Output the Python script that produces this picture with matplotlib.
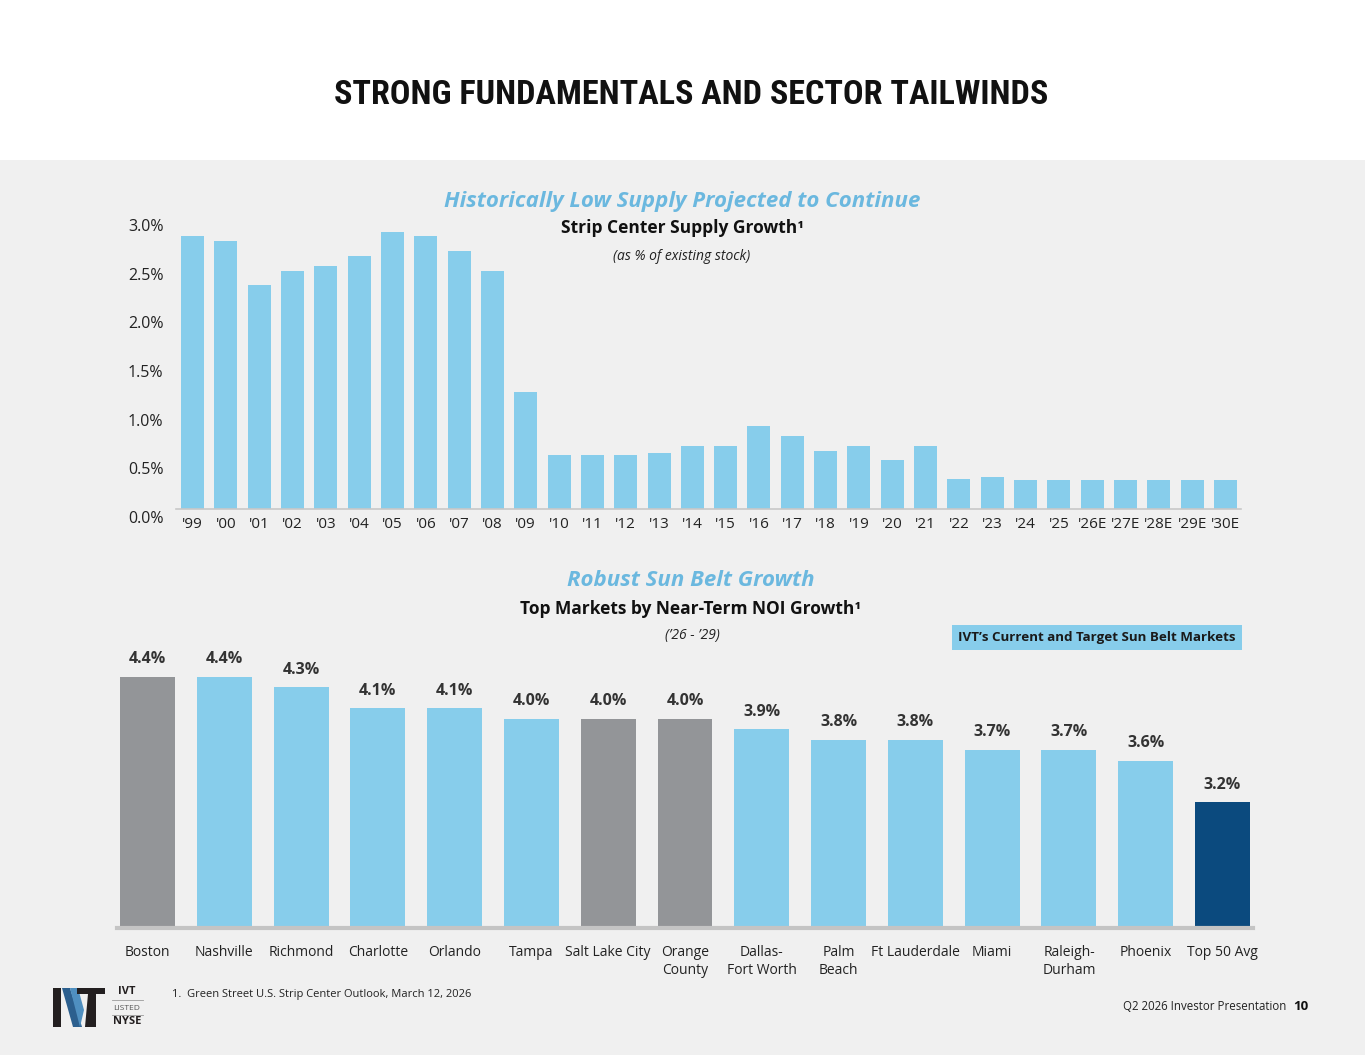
import matplotlib.pyplot as plt
import matplotlib.transforms as mtransforms
from matplotlib import font_manager as fm
from matplotlib.patches import Rectangle, Polygon

# top chart: strip center supply growth (% of existing stock)
years = ["'99", "'00", "'01", "'02", "'03", "'04", "'05", "'06", "'07", "'08",
         "'09", "'10", "'11", "'12", "'13", "'14", "'15", "'16", "'17", "'18",
         "'19", "'20", "'21", "'22", "'23", "'24", "'25",
         "'26E", "'27E", "'28E", "'29E", "'30E"]
supply = [2.80, 2.75, 2.30, 2.45, 2.50, 2.60, 2.85, 2.80, 2.65, 2.45,
          1.20, 0.55, 0.55, 0.55, 0.58, 0.65, 0.65, 0.85, 0.75, 0.60,
          0.65, 0.50, 0.65, 0.31, 0.33, 0.30, 0.30,
          0.30, 0.30, 0.30, 0.30, 0.30]
supply_ticks = [0.0, 0.5, 1.0, 1.5, 2.0, 2.5, 3.0]

# bottom chart: near-term NOI growth by market
markets = ["Boston", "Nashville", "Richmond", "Charlotte", "Orlando", "Tampa",
           "Salt Lake City", "Orange\nCounty", "Dallas-\nFort Worth",
           "Palm\nBeach", "Ft Lauderdale", "Miami", "Raleigh-\nDurham",
           "Phoenix", "Top 50 Avg"]
noi_growth = [4.4, 4.4, 4.3, 4.1, 4.1, 4.0, 4.0, 4.0, 3.9, 3.8, 3.8, 3.7, 3.7,
              3.6, 3.2]
market_group = ["other", "ivt", "ivt", "ivt", "ivt", "ivt", "other", "other",
                "ivt", "ivt", "ivt", "ivt", "ivt", "ivt", "avg"]

SKY = "#87CDEB"
GREY = "#939598"
NAVY = "#0B4A7E"
HEAD_BLUE = "#6BB8DF"
BG = "#F0F0F0"
group_colors = {"ivt": SKY, "other": GREY, "avg": NAVY}

W, H = 1365, 1055
plt.rcParams['font.family'] = ['Open Sans', 'DejaVu Sans']


def fx(x):
    return x / W


def fy(y):
    return 1 - y / H


names = {f.name for f in fm.fontManager.ttflist}
title_font = dict(family='Roboto', weight='bold', size=22.5)
for cand in ['Liberation Sans Narrow', 'DejaVu Sans Condensed', 'Roboto Condensed']:
    if cand in names:
        title_font = dict(family=cand, weight='bold', size=24.6)
        break

fig = plt.figure(figsize=(W / 100, H / 100), dpi=100)
fig.patch.set_facecolor(BG)
fig.patches.append(Rectangle((0, fy(160)), 1, 160 / H, transform=fig.transFigure,
                             facecolor='white', edgecolor='none', zorder=0))

fig.text(fx(691), fy(95), "STRONG FUNDAMENTALS AND SECTOR TAILWINDS",
         ha='center', va='center', color='#111111', **title_font)

# ---- top chart ----
ax1 = fig.add_axes([fx(176), fy(509), fx(1241) - fx(176), (509 - 217) / H])
ax1.set_facecolor('none')
ax1.bar(range(len(supply)), supply, width=0.69, color=SKY, zorder=2)
ax1.set_xlim(-0.495, len(supply) - 1 + 0.465)
ax1.set_ylim(0, 3.0)
ax1.set_yticks(supply_ticks)
ax1.set_yticklabels([f"{t:.1f}%" for t in supply_ticks])
ax1.set_xticks(range(len(years)))
ax1.set_xticklabels(years)
ax1.tick_params(axis='both', length=0, labelsize=11.5, colors='#222222')
ax1.tick_params(axis='x', labelsize=11)
ax1.tick_params(axis='y', pad=9)
ax1.tick_params(axis='x', pad=6)
for s in ['top', 'right', 'left']:
    ax1.spines[s].set_visible(False)
ax1.spines['bottom'].set_color('#C8C8C8')
ax1.spines['bottom'].set_linewidth(1.2)
offset = mtransforms.ScaledTranslation(0, -8 / 100, fig.dpi_scale_trans)
for lab in ax1.get_yticklabels():
    lab.set_transform(lab.get_transform() + offset)

fig.text(fx(682), fy(201), "Historically Low Supply Projected to Continue",
         ha='center', va='center', color=HEAD_BLUE, fontsize=16,
         fontweight='bold', style='italic')
fig.text(fx(682), fy(228), "Strip Center Supply Growth\u00b9", ha='center',
         va='center', color='#111111', fontsize=12.5, fontweight='bold')
fig.text(fx(682), fy(256), "(as % of existing stock)", ha='center', va='center',
         color='#222222', fontsize=10, style='italic')

# ---- bottom chart ----
ax2 = fig.add_axes([fx(117), fy(928), fx(1253) - fx(117), (928 - 656) / H])
ax2.set_facecolor('none')
ax2.bar(range(len(noi_growth)), noi_growth, width=0.716, bottom=0,
        color=[group_colors[g] for g in market_group], zorder=2)
ax2.set_xlim(-0.397, len(noi_growth) - 1 + 0.397)
ax2.set_ylim(2.0, 4.6)
ax2.set_yticks([])
ax2.set_xticks(range(len(markets)))
ax2.set_xticklabels(markets, linespacing=1.3)
ax2.tick_params(axis='x', length=0, labelsize=10, colors='#222222', pad=12)
for s in ['top', 'right', 'left']:
    ax2.spines[s].set_visible(False)
ax2.spines['bottom'].set_color('#C4C4C4')
ax2.spines['bottom'].set_linewidth(3)
ax2.spines['bottom'].set_zorder(3)
for i, v in enumerate(noi_growth):
    ax2.annotate(f"{v:.1f}%", (i, v), xytext=(0, 7), textcoords='offset points',
                 ha='center', va='bottom', fontsize=11.5, fontweight='bold',
                 color='#333333')

fig.text(fx(691), fy(581), "Robust Sun Belt Growth", ha='center', va='center',
         color=HEAD_BLUE, fontsize=16, fontweight='bold', style='italic')
fig.text(fx(691), fy(609), "Top Markets by Near-Term NOI Growth\u00b9",
         ha='center', va='center', color='#111111', fontsize=12.5,
         fontweight='bold')
fig.text(fx(692), fy(636), "(\u201926 - \u201929)", ha='center', va='center',
         color='#222222', fontsize=10, style='italic')

fig.text(fx(1097), fy(637), "IVT\u2019s Current and Target Sun Belt Markets",
         ha='center', va='center', color='#1a1a1a', fontsize=9.6,
         fontweight='bold',
         bbox=dict(boxstyle='square,pad=0.45', facecolor=SKY, edgecolor='none'))

# ---- footer ----
fig.text(fx(172), fy(994), "1.  Green Street U.S. Strip Center Outlook, March 12, 2026",
         ha='left', va='center', color='#222222', fontsize=8)
fig.text(fx(1286), fy(1007), "Q2 2026 Investor Presentation", ha='right',
         va='center', color='#222222', fontsize=8.3)
fig.text(fx(1293), fy(1007), "10", ha='left', va='center', color='#111111',
         fontsize=9.5, fontweight='bold')

# logo mark
logo = [
    ([(53, 988), (61, 988), (61, 1027), (53, 1027)], '#231F20'),
    ([(62, 988), (70, 988), (82, 1027), (73, 1027)], '#2C5F8E'),
    ([(70, 988), (78, 988), (84, 1010), (80, 1027)], '#4F8FC0'),
    ([(77, 988), (105, 988), (105, 994), (77, 994)], '#231F20'),
    ([(88, 994), (96, 994), (96, 1027), (85, 1027)], '#231F20'),
]
for pts, col in logo:
    fig.patches.append(Polygon([(fx(x), fy(y)) for x, y in pts], closed=True,
                               transform=fig.transFigure, facecolor=col,
                               edgecolor='none'))
fig.text(fx(127), fy(992), "IVT", ha='center', va='center', fontsize=8,
         fontweight='bold', color='#231F20')
fig.text(fx(127), fy(1008), "LISTED", ha='center', va='center', fontsize=6,
         color='#555555')
fig.text(fx(127), fy(1022), "NYSE", ha='center', va='center', fontsize=8,
         fontweight='bold', color='#231F20')
for yy in (1000, 1015):
    fig.add_artist(plt.Line2D([fx(112), fx(143)], [fy(yy), fy(yy)],
                              transform=fig.transFigure, color='#9a9a9a', lw=0.6))

fig.savefig("out.png", dpi=100, facecolor=fig.get_facecolor())
